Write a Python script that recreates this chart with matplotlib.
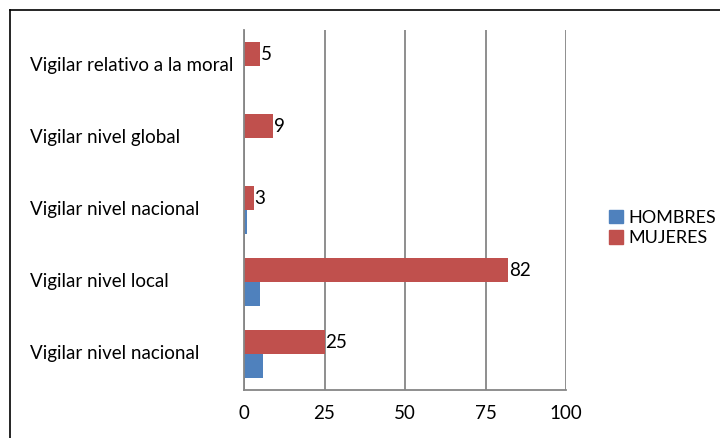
import matplotlib
matplotlib.use("Agg")
import matplotlib.pyplot as plt
from matplotlib.lines import Line2D
from matplotlib.patches import Patch
import numpy as np

# Categories listed top to bottom
categories = [
    "Vigilar relativo a la moral",
    "Vigilar nivel global",
    "Vigilar nivel nacional",
    "Vigilar nivel local",
    "Vigilar nivel nacional",
]
hombres = [0, 0, 1, 5, 6]
mujeres = [5, 9, 3, 82, 25]
x_ticks = [0, 25, 50, 75, 100]

BLUE = "#4F81BD"
RED = "#C0504D"
GRID = "#868686"

plt.rcParams["font.family"] = ["Lato", "DejaVu Sans"]
FS = 13.5

fig = plt.figure(figsize=(7.2, 4.38), dpi=100)
W, H = 720, 438
ax = fig.add_axes([244 / W, 1 - 390 / H, (566 - 244) / W, 360 / H])

n = len(categories)
pos = np.arange(n)[::-1].astype(float)  # first category at top
h = 1 / 3
ax.barh(pos - h / 2, hombres, height=h, color=BLUE, label="HOMBRES")
ax.barh(pos + h / 2, mujeres, height=h, color=RED, label="MUJERES")

for y, v in zip(pos, mujeres):
    ax.text(v + 0.2, y + h / 2, str(v), va="center", ha="left", fontsize=FS)

ax.set_xlim(0, 100)
ax.set_ylim(-0.5, n - 0.5)
ax.set_xticks(x_ticks)
ax.set_xticklabels([str(t) for t in x_ticks], fontsize=FS)
ax.tick_params(axis="x", length=0, pad=11)
ax.set_yticks([])
ax.grid(axis="x", color=GRID, linewidth=1.3)
ax.set_axisbelow(True)
for s in ["top", "right"]:
    ax.spines[s].set_visible(False)
ax.spines["left"].set_color(GRID)
ax.spines["left"].set_linewidth(1.3)
ax.spines["bottom"].set_color(GRID)
ax.spines["bottom"].set_linewidth(1.3)

# Category labels, left aligned
lab_x = (30 - 244) / (566 - 244)
for y, c in zip(pos, categories):
    ax.text(lab_x, y, c, transform=ax.get_yaxis_transform(), ha="left",
            va="center", fontsize=FS)

handles = [Patch(color=BLUE, label="HOMBRES"), Patch(color=RED, label="MUJERES")]
fig.legend(handles=handles, loc="center left", bbox_to_anchor=(609 / W, 1 - 228 / H),
           frameon=False, fontsize=13, handlelength=0.75, handleheight=0.75,
           handletextpad=0.35, labelspacing=0.25, borderaxespad=0, borderpad=0)

# Outer chart frame (left and top edges)
fig.add_artist(Line2D([10 / W, 10 / W], [0, 1 - 10 / H], color="black",
                      linewidth=1.2, transform=fig.transFigure))
fig.add_artist(Line2D([10 / W, 1], [1 - 10 / H, 1 - 10 / H], color="black",
                      linewidth=1.2, transform=fig.transFigure))

fig.savefig("out.png", dpi=100)
